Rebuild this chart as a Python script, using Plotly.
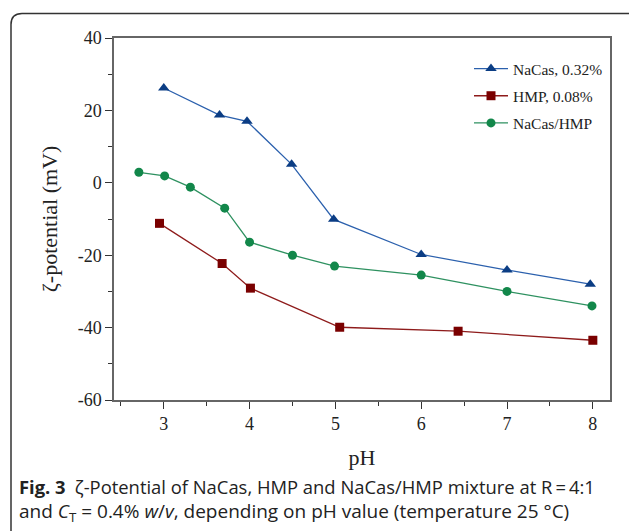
import plotly.graph_objects as go

# Data
nacas_ph = [3.0, 3.65, 3.97, 4.49, 4.98, 6.0, 7.0, 7.97]
nacas_zeta = [26.2, 18.7, 17.0, 5.1, -10.1, -19.8, -24.1, -28.0]

hmp_ph = [2.95, 3.68, 4.01, 5.05, 6.43, 8.0]
hmp_zeta = [-11.2, -22.3, -29.1, -39.9, -41.0, -43.5]

mix_ph = [2.71, 3.01, 3.31, 3.71, 4.0, 4.5, 4.99, 6.0, 7.0, 7.99]
mix_zeta = [2.9, 1.9, -1.2, -7.0, -16.4, -20.0, -23.0, -25.5, -30.0, -34.0]

y_ticks = [40, 20, 0, -20, -40, -60]
y_tick_labels = ["40", "20", "0", "-20", "-40", "-60"]
x_ticks = [3, 4, 5, 6, 7, 8]
x_tick_labels = ["3", "4", "5", "6", "7", "8"]

W, H = 629, 531
L, R, T, B = 114, 19, 38, 131
pw, ph = W - L - R, H - T - B

def px(x):
    return (x - L) / pw

def py(y):
    return (H - B - y) / ph

fig = go.Figure()
fig.add_trace(go.Scatter(
    x=nacas_ph, y=nacas_zeta, name="NaCas, 0.32%", mode="lines+markers",
    line=dict(color="#2b60ad", width=1.3),
    marker=dict(symbol="triangle-up", size=10, color="#0b3d84"),
    legendgroup="a"))
fig.add_trace(go.Scatter(
    x=hmp_ph, y=hmp_zeta, name="HMP, 0.08%", mode="lines+markers",
    line=dict(color="#8e1b1b", width=1.3),
    marker=dict(symbol="square", size=9, color="#7a0000"),
    legendgroup="b"))
fig.add_trace(go.Scatter(
    x=mix_ph, y=mix_zeta, name="NaCas/HMP", mode="lines+markers",
    line=dict(color="#2e9160", width=1.3),
    marker=dict(symbol="circle", size=9, color="#12874a"),
    legendgroup="c"))

axis_font = dict(family="Liberation Serif", size=18, color="#222")
title_font = dict(family="Liberation Serif", size=22, color="#222")
fig.update_xaxes(
    range=[2.42, 8.2], tickmode="array", tickvals=x_ticks, ticktext=x_tick_labels,
    ticks="outside", ticklen=7, tickcolor="#333", tickwidth=1,
    minor=dict(tickmode="linear", dtick=0.5, tick0=2.5, ticks="outside", ticklen=4, tickcolor="#333"),
    showline=True, linecolor="#666", linewidth=1.5, mirror=True,
    showgrid=False, zeroline=False, tickfont=axis_font,
    title=dict(text="pH", font=title_font, standoff=16),
)
fig.update_yaxes(
    range=[-60, 40], tickmode="array", tickvals=y_ticks, ticktext=y_tick_labels,
    ticks="outside", ticklen=7, tickcolor="#333", tickwidth=1,
    minor=dict(tickmode="linear", dtick=10, tick0=0, ticks="outside", ticklen=4, tickcolor="#333"),
    showline=True, linecolor="#666", linewidth=1.5, mirror=True,
    showgrid=False, zeroline=False, tickfont=axis_font,
    title=dict(text="ζ-potential (mV)", font=title_font, standoff=14),
)

# rounded frame
x0, y0, x1, y1, r = 11, 13.5, 645, 545, 11
path = (f"M {px(x0)},{py(y1)} L {px(x0)},{py(y0 + r)} "
        f"Q {px(x0)},{py(y0)} {px(x0 + r)},{py(y0)} L {px(x1)},{py(y0)}")
fig.add_shape(type="path", path=path, xref="paper", yref="paper",
              line=dict(color="#333", width=1.5))

fig.add_annotation(
    x=px(17), y=py(486), xref="paper", yref="paper", xanchor="left", yanchor="middle",
    showarrow=False, font=dict(family="Open Sans", size=18.4, color="#222"), align="left",
    text="<b>Fig. 3</b>\u2002ζ-Potential of NaCas, HMP and NaCas/HMP mixture at R\u2009=\u20094:1")
fig.add_annotation(
    x=px(17), y=py(512), xref="paper", yref="paper", xanchor="left", yanchor="middle",
    showarrow=False, font=dict(family="Open Sans", size=19, color="#222"), align="left",
    text="and <i>C</i><sub>T</sub> = 0.4% <i>w</i>/<i>v</i>, depending on pH value (temperature 25 °C)")

fig.update_layout(
    width=W, height=H, margin=dict(l=L, r=R, t=T, b=B),
    paper_bgcolor="white", plot_bgcolor="white",
    showlegend=True,
    legend=dict(x=px(469), y=py(52), xanchor="left", yanchor="top",
                font=dict(family="Liberation Serif", size=15.5, color="#222"),
                bgcolor="rgba(0,0,0,0)", tracegroupgap=4, itemwidth=34),
)

fig.write_html("out.html")
